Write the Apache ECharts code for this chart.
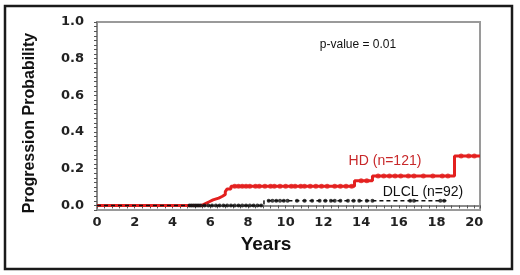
<!DOCTYPE html>
<html>
<head>
<meta charset="utf-8">
<script src="https://cdn.jsdelivr.net/npm/echarts@6/dist/echarts.min.js"></script>
<style>
  html, body { margin: 0; padding: 0; background: #fff; }
  #chart { width: 520px; height: 275px; }
</style>
</head>
<body>
<div id="chart"></div>
<script>
// Kaplan-Meier style step curves, [years, probability]
const hdSteps = [
  [0, 0], [5.55, 0.01], [5.75, 0.02], [5.95, 0.03], [6.15, 0.04], [6.45, 0.05],
  [6.65, 0.06], [6.8, 0.075], [6.9, 0.09], [7.1, 0.105], [13.65, 0.135],
  [14.6, 0.16], [18.95, 0.27], [20.3, 0.27]
];
const dlclSteps = [[0, 0], [8.85, 0.025], [18.6, 0.025]];

// censor marks (years)
const hdCensored = [
  7.3, 7.5, 7.7, 7.9, 8.1, 8.4, 8.6, 8.9, 9.2, 9.4, 9.7, 10.0, 10.3, 10.5, 10.8,
  11.0, 11.3, 11.6, 11.9, 12.2, 12.6, 12.9, 13.2, 13.5, 14.0, 14.3, 14.9, 15.2,
  15.5, 15.8, 16.1, 16.5, 16.8, 17.3, 17.8, 18.3, 18.6, 19.3, 19.7, 20.0
];
const dlclCensored = [
  4.9, 5.0, 5.1, 5.2, 5.3, 5.4, 5.5, 5.7, 5.9, 6.1, 6.3, 6.5, 6.7, 6.9, 7.1,
  7.3, 7.5, 7.7, 7.9, 8.1, 8.3, 8.5, 8.7, 9.1, 9.3, 9.5, 9.7, 9.9, 10.1, 10.6,
  11.0, 11.4, 11.8, 12.1, 12.4, 12.6, 12.9, 13.3, 13.6, 13.9, 14.3, 14.6, 16.6,
  16.8, 18.2, 18.4
];

const pText = "p-value = 0.01";
const hdLabel = "HD (n=121)";
const dlclLabel = "DLCL (n=92)";

function levelAt(steps, t) {
  let v = steps[0][1];
  for (const s of steps) { if (s[0] <= t) v = s[1]; }
  return v;
}

const font = "Arial, 'Liberation Sans', sans-serif";
const tickFont = "'DejaVu Sans', Verdana, sans-serif";
const red = "#e3201f";

const chart = echarts.init(document.getElementById("chart"));
chart.setOption({
  animation: false,
  grid: {
    left: 97, top: 22, right: 40, bottom: 65,
    show: true, borderColor: "#9a9a9a", borderWidth: 2
  },
  xAxis: {
    type: "value",
    min: 0, max: 20.3, interval: 2,
    splitLine: { show: false },
    axisLine: { lineStyle: { color: "#8a8a8a", width: 2 } },
    axisTick: { length: 3, lineStyle: { color: "#555" } },
    minorTick: { show: true, splitNumber: 5, length: 3, lineStyle: { color: "#555" } },
    axisLabel: {
      margin: 6,
      color: "#222", fontFamily: tickFont, fontWeight: "bold", fontSize: 13,
      formatter: v => (Math.abs(v - Math.round(v)) < 1e-6 && Math.round(v) % 2 === 0) ? String(Math.round(v)) : ""
    }
  },
  yAxis: {
    type: "value",
    min: -0.025, max: 1, interval: 0.025,
    splitLine: { show: false },
    axisLine: { lineStyle: { color: "#8a8a8a", width: 2 } },
    axisTick: { length: 3, lineStyle: { color: "#555" } },
    axisLabel: {
      margin: 13,
      color: "#222", fontFamily: tickFont, fontWeight: "bold", fontSize: 13,
      formatter: v => {
        const k = v * 5;
        return (v >= -1e-9 && Math.abs(k - Math.round(k)) < 1e-6) ? v.toFixed(1) : "";
      }
    }
  },
  series: [
    {
      name: "HD", type: "line", step: "end", data: hdSteps,
      symbol: "none", lineStyle: { color: red, width: 3 }, z: 2
    },
    {
      name: "DLCL", type: "line", step: "end", data: dlclSteps,
      symbol: "none", lineStyle: { color: "#111", width: 1.5, type: [4, 3] }, z: 3
    },
    {
      name: "HD censored", type: "scatter",
      data: hdCensored.map(t => [t, levelAt(hdSteps, t)]),
      symbol: "circle", symbolSize: 5, itemStyle: { color: red }, z: 4
    },
    {
      name: "DLCL censored", type: "scatter",
      data: dlclCensored.map(t => [t, levelAt(dlclSteps, t)]),
      symbol: "circle", symbolSize: 4, itemStyle: { color: "#111" }, z: 5
    }
  ],
  graphic: [
    {
      type: "rect", silent: true,
      shape: { x: 5, y: 6, width: 507, height: 263 },
      style: { fill: "none", stroke: "#1a1a1a", lineWidth: 2.5 }
    },
    {
      type: "text", x: 30, y: 123, rotation: Math.PI / 2,
      style: { text: "Progression Probability", font: "bold 16px " + font, fill: "#111", align: "center", verticalAlign: "middle" }
    },
    {
      type: "text", x: 266, y: 245,
      style: { text: "Years", font: "bold 19px " + font, fill: "#111", align: "center", verticalAlign: "middle" }
    },
    {
      type: "text", x: 358, y: 45,
      style: { text: pText, font: "12px " + font, fill: "#111", align: "center", verticalAlign: "middle" }
    },
    {
      type: "text", x: 385, y: 161,
      style: { text: hdLabel, font: "14px " + font, fill: "#c8282a", align: "center", verticalAlign: "middle" }
    },
    {
      type: "text", x: 423, y: 192,
      style: { text: dlclLabel, font: "14px " + font, fill: "#111", align: "center", verticalAlign: "middle" }
    }
  ]
});
</script>
</body>
</html>
